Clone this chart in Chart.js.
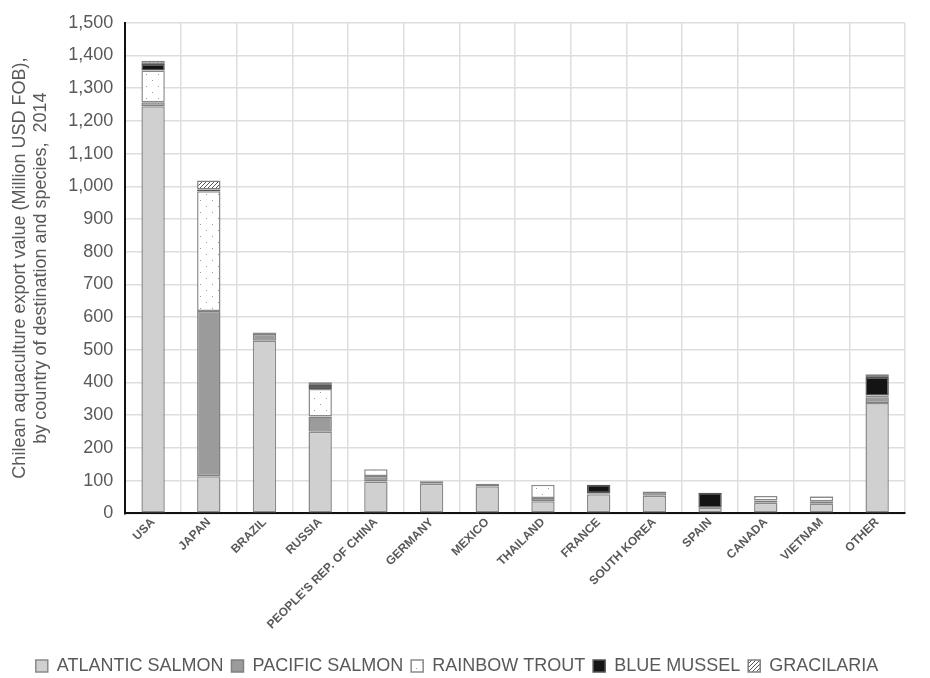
<!DOCTYPE html>
<html lang="en">
<head>
  <meta charset="UTF-8">
  <title>Chilean aquaculture exports 2014</title>
  <script src="https://cdn.jsdelivr.net/npm/chart.js"></script>
  <style>
    body { margin: 0; background: #fff; }
  </style>
</head>
<body>
  <canvas id="exportChart" width="930" height="678"></canvas>

  <script>
    // categories and values (million USD FOB)
    const countries = ['USA', 'JAPAN', 'BRAZIL', 'RUSSIA', "PEOPLE'S REP. OF CHINA", 'GERMANY', 'MEXICO',
      'THAILAND', 'FRANCE', 'SOUTH KOREA', 'SPAIN', 'CANADA', 'VIETNAM', 'OTHER'];
    const atlanticSalmon = [1245, 113, 528, 249, 97, 90, 83, 37, 58, 54, 17, 32, 29, 337];
    const pacificSalmon  = [12, 506, 20, 47, 17, 8, 7, 10, 3, 13, 0, 7, 8, 18];
    const rainbowTrout   = [97, 366, 3, 84, 21, 0, 0, 40, 0, 0, 0, 14, 14, 5];
    const blueMussel     = [20, 5, 0, 12, 0, 0, 0, 0, 26, 0, 46, 0, 0, 57];
    const gracilaria     = [10, 28, 2, 9, 0, 0, 0, 0, 0, 0, 0, 0, 2, 8];

    const textGrey = '#595959';

    // small tiles for the dotted and hatched fills
    function dotPattern() {
      const c = document.createElement('canvas');
      c.width = 12; c.height = 12;
      const g = c.getContext('2d');
      g.fillStyle = '#fff';
      g.fillRect(0, 0, 12, 12);
      g.fillStyle = '#9a9a9a';
      g.fillRect(2, 2, 1, 1);
      g.fillRect(8, 8, 1, 1);
      return g.createPattern(c, 'repeat');
    }

    function hatchPattern() {
      const c = document.createElement('canvas');
      c.width = 4; c.height = 4;
      const g = c.getContext('2d');
      g.fillStyle = '#fff';
      g.fillRect(0, 0, 4, 4);
      g.strokeStyle = '#555';
      g.lineWidth = 1;
      g.beginPath();
      g.moveTo(0, 4); g.lineTo(4, 0);
      g.moveTo(-1, 1); g.lineTo(1, -1);
      g.moveTo(3, 5); g.lineTo(5, 3);
      g.stroke();
      return g.createPattern(c, 'repeat');
    }

    // empty segments are left out so no zero-height border is drawn
    const skipZero = arr => arr.map(v => v === 0 ? null : v);

    function series(label, values, fill, border) {
      return {
        label: label,
        data: skipZero(values),
        backgroundColor: fill,
        borderColor: border,
        borderWidth: 1.5,
        borderSkipped: false,
        barPercentage: 0.42,
        categoryPercentage: 1.0
      };
    }

    const ctx = document.getElementById('exportChart').getContext('2d');
    new Chart(ctx, {
      type: 'bar',
      data: {
        labels: countries,
        datasets: [
          series('ATLANTIC SALMON', atlanticSalmon, '#d0d0d0', '#8a8a8a'),
          series('PACIFIC SALMON', pacificSalmon, '#9b9b9b', '#808080'),
          series('RAINBOW TROUT', rainbowTrout, dotPattern(), '#8a8a8a'),
          series('BLUE MUSSEL', blueMussel, '#141414', '#555555'),
          series('GRACILARIA', gracilaria, hatchPattern(), '#808080')
        ]
      },
      options: {
        responsive: false,
        animation: false,
        locale: 'en-US',
        layout: { padding: { top: 0, right: 25, left: 9, bottom: -7 } },
        plugins: {
          tooltip: { enabled: false },
          legend: {
            position: 'bottom',
            labels: {
              color: textGrey,
              font: { family: "'Liberation Sans', Arial", size: 18 },
              boxWidth: 12,
              boxHeight: 12,
              padding: 8
            }
          }
        },
        scales: {
          x: {
            stacked: true,
            // leave a little extra room under the rotated names
            afterFit: scale => { scale.height += 15; },
            grid: { color: '#dedede', lineWidth: 1.5, offset: true, drawTicks: false },
            border: { color: '#111', width: 2 },
            ticks: {
              color: textGrey,
              font: { family: "'Liberation Sans', Arial", size: 12, weight: 'bold' },
              maxRotation: 45,
              minRotation: 45,
              autoSkip: false,
              padding: 2
            }
          },
          y: {
            stacked: true,
            min: 0,
            max: 1500,
            grid: { color: '#dedede', lineWidth: 1.5, drawTicks: false },
            border: { color: '#111', width: 2 },
            ticks: {
              stepSize: 100,
              color: textGrey,
              font: { family: "'Liberation Sans', Arial", size: 18 },
              padding: 12
            },
            title: {
              display: true,
              text: ['Chilean aquaculture export value (Million USD FOB),', 'by country of destination and species,  2014'],
              color: textGrey,
              font: { family: "'Liberation Sans', Arial", size: 18 },
              padding: { top: 0, bottom: 4 }
            }
          }
        }
      }
    });
  </script>
</body>
</html>
